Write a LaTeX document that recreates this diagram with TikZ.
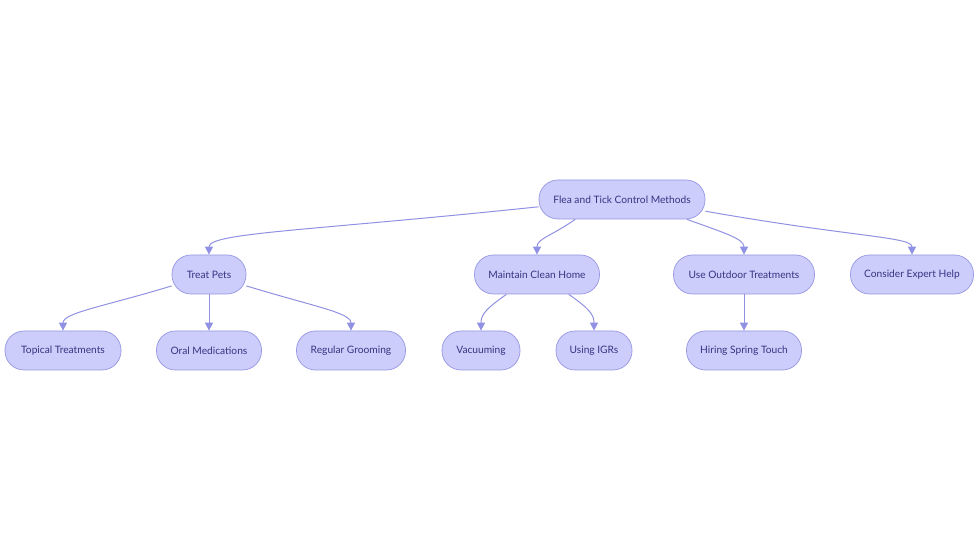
\documentclass[tikz,border=0pt]{standalone}
\usepackage{fontspec}
\setmainfont{Lato}
\usetikzlibrary{arrows.meta}

\definecolor{boxfill}{RGB}{205,205,251}
\definecolor{boxline}{RGB}{150,150,228}
\definecolor{boxtext}{RGB}{52,52,130}
\definecolor{linkline}{RGB}{145,145,228}

\begin{document}
\begin{tikzpicture}[x=1pt, y=1pt, font=\fontsize{10.2}{12}\selectfont,
    box/.style={draw=boxline, fill=boxfill, text=boxtext, line width=.7pt,
      rounded corners=19pt, minimum height=39pt, inner sep=0pt},
    link/.style={draw=linkline, line width=1pt,
      -{Triangle[width=8pt,length=8pt]}}]
    \useasboundingbox[fill=white] (0,0) rectangle (980,553);
    % top
    \node[box, minimum width=166pt] (root) at (622,353.5) {Flea and Tick Control Methods};
    % first row
    \node[box, minimum width=74pt] (pets) at (209,278.5) {Treat Pets};
    \node[box, minimum width=125pt] (home) at (537,278.5) {Maintain Clean Home};
    \node[box, minimum width=141pt] (outdoor) at (744,278.5) {Use Outdoor Treatments};
    \node[box, minimum width=123pt] (expert) at (912,278.5) {Consider Expert Help};
    % second row
    \node[box, minimum width=116pt] (topical) at (63,202.5) {Topical Treatments};
    \node[box, minimum width=105pt] (oral) at (209,202.5) {Oral Medications};
    \node[box, minimum width=109pt] (grooming) at (351,202.5) {Regular Grooming};
    \node[box, minimum width=78pt] (vacuum) at (481,202.5) {Vacuuming};
    \node[box, minimum width=76pt] (igrs) at (594,202.5) {Using IGRs};
    \node[box, minimum width=115pt] (spring) at (744,202.5) {Hiring Spring Touch};
    % links
    \draw[link] (root.185) .. controls +(186:230) and +(90:22) .. (pets.north);
    \draw[link] (root.203) .. controls +(215:30) and +(90:16) .. (home.north);
    \draw[link] (root.343) .. controls +(340:40) and +(90:16) .. (outdoor.north);
    \draw[link] (root.352) .. controls +(350:150) and +(90:18) .. (expert.north);
    \draw[link] (pets.197) .. controls +(197:70) and +(90:18) .. (topical.north);
    \draw[link] (pets.south) -- (oral.north);
    \draw[link] (pets.343) .. controls +(343:70) and +(90:18) .. (grooming.north);
    \draw[link] (home.213) .. controls +(215:25) and +(90:16) .. (vacuum.north);
    \draw[link] (home.328) .. controls +(325:25) and +(90:16) .. (igrs.north);
    \draw[link] (outdoor.south) -- (spring.north);
\end{tikzpicture}
\end{document}
